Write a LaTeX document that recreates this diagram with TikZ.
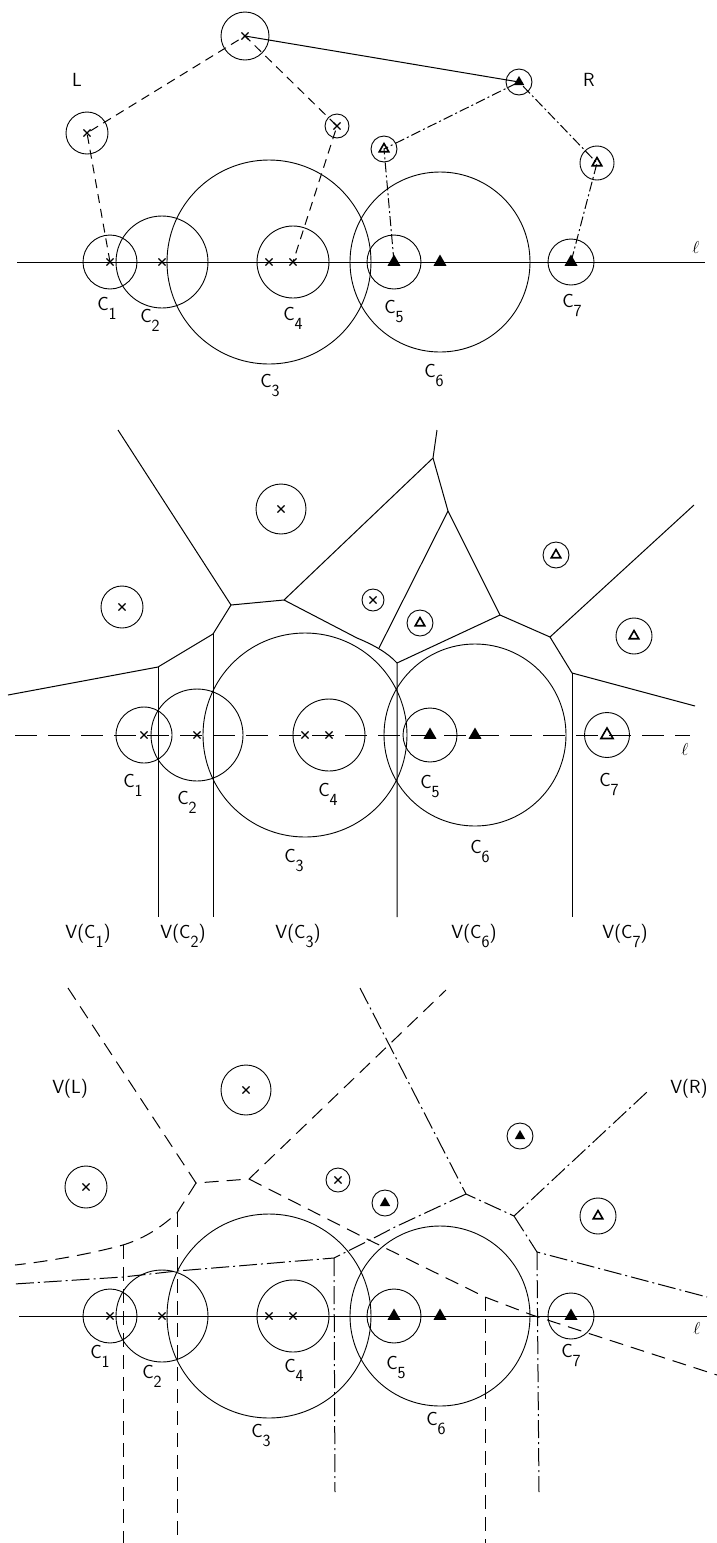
\documentclass[tikz,border=0pt]{standalone}
\usepackage{tikz}
\usetikzlibrary{shapes.geometric,shapes.misc}
\newcommand{\csub}[1]{C\raisebox{-9pt}{\fontsize{17pt}{17pt}\selectfont #1}}

\begin{document}
\begin{tikzpicture}[x=1pt, y=-1pt,
  site/.style={draw, circle, line width=0.9pt, inner sep=0pt},
  xsite/.style={draw, cross out, line width=1.1pt, minimum size=6pt, inner sep=0pt},
  fsite/.style={fill, regular polygon, regular polygon sides=3, minimum size=15pt, inner sep=0pt},
  fsmall/.style={fill, regular polygon, regular polygon sides=3, minimum size=12pt, inner sep=0pt},
  hsite/.style={draw, regular polygon, regular polygon sides=3, line width=1.6pt, minimum size=11pt, inner sep=0pt},
  lab/.style={font=\fontsize{19pt}{19pt}\selectfont\sffamily, inner sep=0pt},
  vor/.style={line width=1pt},
  ldash/.style={line width=1pt, dash pattern=on 9pt off 6pt},
  rdash/.style={line width=1pt, dash pattern=on 10pt off 3pt on 2pt off 3pt},
  lvor/.style={line width=1pt, dash pattern=on 14pt off 8pt},
  rvor/.style={line width=1pt, dash pattern=on 18pt off 4pt on 2pt off 4pt},
  lnline/.style={line width=1pt, dash pattern=on 22pt off 11pt}]%
\useasboundingbox (0,0) rectangle (717,1543);%
% top panel: the sets L and R
\coordinate (ella) at (17,262);%
\coordinate (ellb) at (705,262);%
\draw[vor] (ella) -- (ellb);%
\node[site, minimum size=54pt] (a1) at (110,262) {};%
\node[site, minimum size=92pt] (a2) at (162,262) {};%
\node[site, minimum size=204pt] (a3) at (269,262) {};%
\node[site, minimum size=72pt] (a4) at (293,262) {};%
\node[site, minimum size=54pt] (a5) at (394,262) {};%
\node[site, minimum size=180pt] (a6) at (440,262) {};%
\node[site, minimum size=46pt] (a7) at (571,262) {};%
\node[site, minimum size=42pt] (al1) at (87,133) {};%
\node[site, minimum size=48pt] (al2) at (245,36) {};%
\node[site, minimum size=24pt] (al3) at (337,126) {};%
\node[site, minimum size=26pt] (ar1) at (519,82) {};%
\node[site, minimum size=26pt] (ar2) at (384,149) {};%
\node[site, minimum size=34pt] (ar3) at (597,163) {};%
\node[xsite] (am1) at (a1.center) {};%
\node[xsite] (am2) at (a2.center) {};%
\node[xsite] (am3) at (a3.center) {};%
\node[xsite] (am4) at (a4.center) {};%
\node[fsite] (am5) at (a5.center) {};%
\node[fsite] (am6) at (a6.center) {};%
\node[fsite] (am7) at (a7.center) {};%
\node[xsite] (aml1) at (al1.center) {};%
\node[xsite] (aml2) at (al2.center) {};%
\node[xsite] (aml3) at (al3.center) {};%
\node[fsmall] (amr1) at (ar1.center) {};%
\node[hsite] (amr2) at (ar2.center) {};%
\node[hsite] (amr3) at (ar3.center) {};%
\draw[ldash] (a1.center) -- (al1.center) -- (al2.center) -- (al3.center) -- (a4.center);%
\draw[vor] (al2.center) -- (ar1.center);%
\draw[rdash] (a5.center) -- (ar2.center) -- (ar1.center) -- (ar3.center) -- (a7.center);%
\node[lab] (ta1) at (107,308) {\csub{1}};%
\node[lab] (ta2) at (150,320) {\csub{2}};%
\node[lab] (ta3) at (270,386) {\csub{3}};%
\node[lab] (ta4) at (293,318) {\csub{4}};%
\node[lab] (ta5) at (394,312) {\csub{5}};%
\node[lab] (ta6) at (434,376) {\csub{6}};%
\node[lab] (ta7) at (572,305) {\csub{7}};%
\node[lab] (tal) at (77,80) {L};%
\node[lab] (tar) at (589,80) {R};%
\node[lab] (taell) at (696,247) {$\ell$};%
% middle panel: the Voronoi diagram of all sites
\coordinate (ellc) at (15,735);%
\coordinate (elld) at (690,735);%
\draw[lnline] (ellc) -- (elld);%
\node[site, minimum size=56pt] (b1) at (144,735) {};%
\node[site, minimum size=92pt] (b2) at (197,735) {};%
\node[site, minimum size=204pt] (b3) at (305,735) {};%
\node[site, minimum size=72pt] (b4) at (329,735) {};%
\node[site, minimum size=54pt] (b5) at (430,735) {};%
\node[site, minimum size=182pt] (b6) at (475,735) {};%
\node[site, minimum size=45pt] (b7) at (607,735) {};%
\node[site, minimum size=42pt] (bl1) at (122,607) {};%
\node[site, minimum size=50pt] (bl2) at (281,509) {};%
\node[site, minimum size=22pt] (bl3) at (373,600) {};%
\node[site, minimum size=26pt] (br1) at (556,555) {};%
\node[site, minimum size=26pt] (br2) at (420,623) {};%
\node[site, minimum size=36pt] (br3) at (634,636) {};%
\node[xsite] (bm1) at (b1.center) {};%
\node[xsite] (bm2) at (b2.center) {};%
\node[xsite] (bm3) at (b3.center) {};%
\node[xsite] (bm4) at (b4.center) {};%
\node[fsite] (bm5) at (b5.center) {};%
\node[fsite] (bm6) at (b6.center) {};%
\node[hsite, minimum size=14pt] (bm7) at (b7.center) {};%
\node[xsite] (bml1) at (bl1.center) {};%
\node[xsite] (bml2) at (bl2.center) {};%
\node[xsite] (bml3) at (bl3.center) {};%
\node[hsite] (bmr1) at (br1.center) {};%
\node[hsite] (bmr2) at (br2.center) {};%
\node[hsite] (bmr3) at (br3.center) {};%
\coordinate (vA) at (231,605);%
\coordinate (vB) at (284,600);%
\coordinate (vD) at (397,663);%
\coordinate (vE) at (213,634);%
\coordinate (vF) at (158,667);%
\coordinate (vG) at (433,458);%
\coordinate (vH) at (448,511);%
\coordinate (vI) at (500,615);%
\coordinate (vJ) at (550,637);%
\coordinate (vK) at (572,673);%
\draw[vor] (118,430) -- (vA) -- (vB) -- (vG) -- (437,430);%
\draw[vor] (vG) -- (vH) -- (vI) -- (vJ) -- (694,505);%
\draw[vor] (vH) -- (379,648);%
\draw[vor] (vJ) -- (vK) -- (695,706);%
\draw[vor] (vK) -- (572,917);%
\draw[vor] (vI) -- (vD) -- (397,917);%
\draw[vor] (vB) -- (357,638) .. controls (374,645) and (388,653) .. (vD);%
\draw[vor] (vA) -- (vE) -- (vF) -- (8,695);%
\draw[vor] (vE) -- (213,917);%
\draw[vor] (vF) -- (158,917);%
\node[lab] (tb1) at (133,785) {\csub{1}};%
\node[lab] (tb2) at (187,802) {\csub{2}};%
\node[lab] (tb3) at (294,861) {\csub{3}};%
\node[lab] (tb4) at (328,794) {\csub{4}};%
\node[lab] (tb5) at (430,787) {\csub{5}};%
\node[lab] (tb6) at (480,852) {\csub{6}};%
\node[lab] (tb7) at (609,784) {\csub{7}};%
\node[lab] (tbell) at (685,749) {$\ell$};%
\node[lab] (tv1) at (88,936) {V(\csub{1})};%
\node[lab] (tv2) at (183,936) {V(\csub{2})};%
\node[lab] (tv3) at (298,936) {V(\csub{3})};%
\node[lab] (tv6) at (474,936) {V(\csub{6})};%
\node[lab] (tv7) at (625,936) {V(\csub{7})};%
% bottom panel: V(L) dashed, V(R) dash-dotted
\coordinate (elle) at (19,1316);%
\coordinate (ellf) at (707,1316);%
\draw[vor] (elle) -- (ellf);%
\node[site, minimum size=54pt] (c1) at (110,1316) {};%
\node[site, minimum size=92pt] (c2) at (162,1316) {};%
\node[site, minimum size=204pt] (c3) at (269,1316) {};%
\node[site, minimum size=72pt] (c4) at (293,1316) {};%
\node[site, minimum size=54pt] (c5) at (394,1316) {};%
\node[site, minimum size=180pt] (c6) at (440,1316) {};%
\node[site, minimum size=46pt] (c7) at (571,1316) {};%
\node[site, minimum size=42pt] (cl1) at (86,1187) {};%
\node[site, minimum size=50pt] (cl2) at (246,1090) {};%
\node[site, minimum size=24pt] (cl3) at (338,1180) {};%
\node[site, minimum size=26pt] (cr1) at (520,1136) {};%
\node[site, minimum size=26pt] (cr2) at (385,1203) {};%
\node[site, minimum size=36pt] (cr3) at (598,1216) {};%
\node[xsite] (cm1) at (c1.center) {};%
\node[xsite] (cm2) at (c2.center) {};%
\node[xsite] (cm3) at (c3.center) {};%
\node[xsite] (cm4) at (c4.center) {};%
\node[fsite] (cm5) at (c5.center) {};%
\node[fsite] (cm6) at (c6.center) {};%
\node[fsite] (cm7) at (c7.center) {};%
\node[xsite] (cml1) at (cl1.center) {};%
\node[xsite] (cml2) at (cl2.center) {};%
\node[xsite] (cml3) at (cl3.center) {};%
\node[fsmall] (cmr1) at (cr1.center) {};%
\node[fsmall] (cmr2) at (cr2.center) {};%
\node[hsite] (cmr3) at (cr3.center) {};%
\coordinate (wP) at (196,1183);%
\coordinate (wQ) at (249,1179);%
\coordinate (wT1) at (123,1245);%
\coordinate (wT2) at (177,1213);%
\coordinate (wT5) at (485,1297);%
\draw[lvor] (68,988) -- (wP) -- (wQ) -- (446,990);%
\draw[lvor] (wP) -- (wT2) .. controls (158,1230) and (142,1239) .. (wT1) .. controls (90,1254) and (50,1261) .. (15,1265);%
\draw[lvor] (wT1) -- (123,1543);%
\draw[lvor] (wT2) -- (177,1543);%
\draw[lvor] (wQ) -- (367,1239) -- (wT5) -- (532,1315) -- (717,1375);%
\draw[lvor] (wT5) -- (485,1543);%
\coordinate (uR1) at (466,1194);%
\coordinate (uR2) at (514,1216);%
\coordinate (uR3) at (537,1252);%
\coordinate (uS) at (334,1258);%
\draw[rvor] (360,988) -- (uR1) -- (uR2) -- (647,1092);%
\draw[rvor] (uR2) -- (uR3) -- (707,1297);%
\draw[rvor] (uR3) -- (539,1492);%
\draw[rvor] (uR1) -- (395,1227) -- (370,1240) -- (uS) -- (177,1271) -- (123,1277) -- (14,1284);%
\draw[rvor] (uS) -- (335,1492);%
\node[lab] (tc1) at (100,1356) {\csub{1}};%
\node[lab] (tc2) at (152,1376) {\csub{2}};%
\node[lab] (tc3) at (261,1436) {\csub{3}};%
\node[lab] (tc4) at (294,1370) {\csub{4}};%
\node[lab] (tc5) at (396,1368) {\csub{5}};%
\node[lab] (tc6) at (436,1424) {\csub{6}};%
\node[lab] (tc7) at (571,1355) {\csub{7}};%
\node[lab] (tcell) at (697,1328) {$\ell$};%
\node[lab] (tvl) at (70,1089) {V(L)};%
\node[lab] (tvr) at (689,1089) {V(R)};%
\end{tikzpicture}
\end{document}
